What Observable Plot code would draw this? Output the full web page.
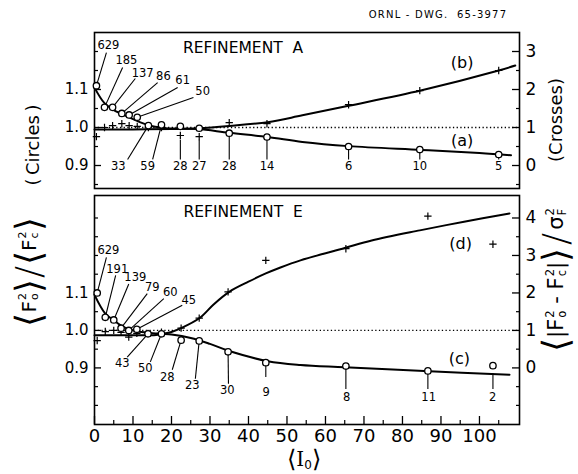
<!DOCTYPE html>
<html><head><meta charset="utf-8">
<script src="https://cdn.jsdelivr.net/npm/d3@7"></script>
<script src="https://cdn.jsdelivr.net/npm/@observablehq/plot@0.6"></script>
<style>
body{margin:0;background:#fff;}
#wrap{position:relative;width:578px;height:474px;overflow:hidden;background:#fff;font-family:"DejaVu Sans",sans-serif;color:#000;}
#wrap svg{position:absolute;left:0;}
.lab{position:absolute;white-space:nowrap;transform:translate(-50%,-50%) rotate(-90deg);line-height:1;display:flex;align-items:center;}
.hl{position:absolute;white-space:nowrap;transform:translate(-50%,-50%);line-height:1;display:flex;align-items:center;}
.st{display:inline-flex;flex-direction:column;font-size:0.55em;line-height:1.05;margin-left:1px;}
.br{font-size:36px;font-weight:200;}
</style></head>
<body><div id="wrap"></div>
<script>
// ---------- shared axis values ----------
const xTicks = [0, 10, 20, 30, 40, 50, 60, 70, 80, 90, 100];
const xMinor = [5, 15, 25, 35, 45, 55, 65, 75, 85, 95, 105];
const leftTicks = [0.9, 1.0, 1.1];
const leftMinorA = [0.85, 0.95, 1.05, 1.15, 1.2];
const leftMinorE = [0.8, 0.85, 0.95, 1.05, 1.15, 1.2, 1.25, 1.3];
const rightTicksA = [0, 1, 2, 3];
const rightMinorA = [-0.5, 0.5, 1.5, 2.5];
const rightTicksE = [0, 1, 2, 3, 4];
const rightMinorE = [-1, -0.5, 0.5, 1.5, 2.5, 3.5];

// ---------- Refinement A ----------
const xA = [0.5, 2.6, 4.7, 7.1, 9.0, 11.1, 14.0, 17.4, 22.3, 27.2, 35.0, 44.8, 66.0, 84.5, 105.0];
const circlesA = [1.110, 1.053, 1.053, 1.037, 1.033, 1.027, 1.005, 1.007, 1.003, 0.998, 0.985, 0.975, 0.950, 0.942, 0.929];
const crossesA = [0.76, 1.00, 1.05, 1.10, 1.05, 1.03, 1.00, 1.00, 0.79, 0.76, 1.13, 1.10, 1.60, 1.97, 2.50];
const countsA = [629, 185, 137, 86, 61, 50, 33, 59, 28, 27, 28, 14, 6, 10, 5];
const curveAx = [0, 2.6, 5, 7, 10, 14, 18, 22, 27, 35, 45, 54, 66, 85, 100, 108.2];
const curveAy = [1.105, 1.064, 1.046, 1.036, 1.022, 1.006, 0.999, 0.997, 0.996, 0.986, 0.975, 0.962, 0.951, 0.941, 0.933, 0.927];
const curveBx = [0, 10, 20, 27, 35, 45, 54, 66, 85, 105, 109.3];
const curveBy = [0.95, 0.95, 0.96, 0.98, 1.04, 1.14, 1.32, 1.57, 1.98, 2.50, 2.63];

// ---------- Refinement E ----------
const xE = [0.7, 2.8, 5.0, 6.9, 8.9, 11.0, 13.9, 17.4, 22.5, 27.2, 34.7, 44.5, 65.3, 86.6, 103.5];
const circlesE = [1.100, 1.035, 1.028, 1.006, 1.000, 1.003, 0.991, 0.991, 0.974, 0.972, 0.943, 0.914, 0.905, 0.892, 0.906];
const crossesE = [0.73, 0.97, 1.00, 0.95, 0.82, 0.92, 0.92, 0.95, 1.06, 1.33, 2.03, 2.87, 3.18, 4.05, 3.30];
const countsE = [629, 191, 139, 79, 60, 45, 43, 50, 28, 23, 30, 9, 8, 11, 2];
const curveCx = [0, 2.8, 5, 7, 9, 11, 14, 17.4, 20, 25, 30, 35, 45, 53.5, 65, 87, 107.8];
const curveCy = [1.095, 1.045, 1.027, 1.012, 1.003, 0.998, 0.994, 0.991, 0.989, 0.980, 0.964, 0.945, 0.918, 0.908, 0.902, 0.891, 0.882];
const curveDx = [0, 10, 16, 20, 22.5, 27.3, 31, 35, 40, 44.5, 48.3, 53.5, 65, 72, 84.5, 96, 107.8];
const curveDy = [0.87, 0.87, 0.88, 0.96, 1.06, 1.33, 1.70, 2.03, 2.30, 2.52, 2.68, 2.87, 3.20, 3.40, 3.67, 3.90, 4.12];

// ---------- count-label placement (data units) ----------
const labTxA = [3.6, 8.3, 12.5, 17.9, 22.9, 28.1, 6.2, 13.8, 22.3, 27.2, 35.0, 44.8, 66.0, 84.5, 105.0];
const labTyA = [1.216, 1.176, 1.142, 1.134, 1.124, 1.095, 0.897, 0.897, 0.897, 0.897, 0.897, 0.897, 0.897, 0.897, 0.897];
const leadX1A = [3.1, 7.3, 10.6, 16.4, 21.6, 25.7, 8.6, 15.1, 22.3, 27.2, 35.0, 44.8, 66.0, 84.5, 105.0];
const leadY1A = [1.197, 1.158, 1.129, 1.118, 1.105, 1.079, 0.916, 0.916, 0.916, 0.916, 0.916, 0.916, 0.916, 0.916, 0.916];
const leadY2A = [1.110, 1.053, 1.053, 1.037, 1.033, 1.027, 1.005, 1.007, 0.968, 0.968, 0.985, 0.975, 0.950, 0.942, 0.929];

const labTxE = [3.6, 5.9, 10.6, 15.0, 19.7, 24.5, 7.2, 13.2, 18.9, 25.4, 34.5, 44.6, 65.5, 86.8, 103.4];
const labTyE = [1.213, 1.164, 1.142, 1.114, 1.102, 1.080, 0.911, 0.898, 0.876, 0.853, 0.840, 0.835, 0.822, 0.822, 0.822];
const leadX1E = [3.1, 5.5, 8.9, 13.7, 18.0, 22.8, 8.5, 14.5, 20.2, 26.2, 34.8, 44.5, 65.3, 86.6, 103.5];
const leadY1E = [1.195, 1.147, 1.124, 1.098, 1.085, 1.067, 0.929, 0.916, 0.895, 0.871, 0.858, 0.876, 0.844, 0.844, 0.844];
const leadY2E = [1.100, 1.035, 1.028, 1.006, 1.000, 1.003, 0.991, 0.991, 0.974, 0.972, 0.943, 0.914, 0.905, 0.892, 0.886];

// right-hand (crosses) scale shares the left scale: 1 on the right = 1.0 on the left, 1 unit = 0.1
const toLeft = r => 1 + (r - 1) / 10;
const toRight = v => Math.round((v - 1) * 10 + 1);

const FONT = "DejaVu Sans";

function panel(o) {
  return Plot.plot({
    width: 578, height: o.height,
    marginTop: o.mt, marginBottom: o.mb, marginLeft: 94, marginRight: 59,
    x: {domain: [0, 110.4], axis: null},
    y: {domain: o.ydom, axis: null},
    style: {fontFamily: FONT, background: "transparent", overflow: "visible", color: "#000"},
    marks: [
      Plot.frame({strokeWidth: 1.6}),
      Plot.ruleY([1.0], {strokeDasharray: "1.3,2.4", strokeWidth: 1.3}),
      // left axis
      Plot.axisY({anchor: "left", ticks: leftTicks, tickSize: -7, tickPadding: 13, tickFormat: d3.format(".1f"), fontSize: 15, strokeWidth: 1.3}),
      Plot.axisY({anchor: "left", ticks: o.leftMinor, tickSize: -4, tickFormat: () => "", strokeWidth: 1.2}),
      // right axis (crosses scale)
      Plot.axisY({anchor: "right", ticks: o.rightTicks.map(toLeft), tickSize: -8, tickPadding: 14, tickFormat: toRight, fontSize: 17, strokeWidth: 1.3}),
      Plot.axisY({anchor: "right", ticks: o.rightMinor.map(toLeft), tickSize: -4, tickFormat: () => "", strokeWidth: 1.2}),
      ...(o.xaxis ? [
        Plot.axisX({anchor: "bottom", ticks: xTicks, tickSize: -8, tickPadding: 13, fontSize: 18, strokeWidth: 1.3}),
        Plot.axisX({anchor: "bottom", ticks: xMinor, tickSize: -4, tickFormat: () => "", strokeWidth: 1.2})
      ] : []),
      // fitted curves
      Plot.line(o.c1y, {x: o.c1x, y: d => d, curve: "catmull-rom", strokeWidth: 2}),
      Plot.line(o.c2y, {x: o.c2x, y: d => toLeft(d), curve: "catmull-rom", strokeWidth: 2}),
      // leaders and count labels
      Plot.link(o.counts, {x1: o.lx1, y1: o.ly1, x2: o.xs, y2: o.ly2, strokeWidth: 1.1}),
      Plot.text(o.counts, {x: o.tx, y: o.ty, text: d => String(d), fontSize: 11.5}),
      // data points
      Plot.dot(o.crosses, {x: o.xs, y: d => toLeft(d), symbol: "plus", r: 2.5, stroke: "#000", strokeWidth: 1.2}),
      Plot.dot(o.circles, {x: o.xs, y: d => d, r: 3.2, fill: "#fff", stroke: "#000", strokeWidth: 1.3}),
      // titles
      Plot.text([o.title], {x: 38.6, y: o.titleY, fontSize: 15.5, ariaLabel: "refine"}),
      Plot.text(o.tags, {x: o.tagX, y: o.tagY, fontSize: 16})
    ]
  });
}

const svgA = panel({
  height: 192, mt: 32, mb: 4, ydom: [0.8395, 1.25],
  leftMinor: leftMinorA, rightTicks: rightTicksA, rightMinor: rightMinorA, xaxis: false,
  c1x: curveAx, c1y: curveAy, c2x: curveBx, c2y: curveBy,
  xs: xA, circles: circlesA, crosses: crossesA, counts: countsA,
  tx: labTxA, ty: labTyA, lx1: leadX1A, ly1: leadY1A, ly2: leadY2A,
  title: "REFINEMENT\u00a0\u00a0A", titleY: 1.21,
  tags: ["(b)", "(a)"], tagX: [95.5, 95.5], tagY: [1.169, 0.966]
});
const svgE = panel({
  height: 282, mt: 3, mb: 50, ydom: [0.749, 1.36],
  leftMinor: leftMinorE, rightTicks: rightTicksE, rightMinor: rightMinorE, xaxis: true,
  c1x: curveCx, c1y: curveCy, c2x: curveDx, c2y: curveDy,
  xs: xE, circles: circlesE, crosses: crossesE, counts: countsE,
  tx: labTxE, ty: labTyE, lx1: leadX1E, ly1: leadY1E, ly2: leadY2E,
  title: "REFINEMENT\u00a0\u00a0E", titleY: 1.315,
  tags: ["(d)", "(c)"], tagX: [95.1, 94.8], tagY: [1.231, 0.925]
});

const wrap = document.getElementById("wrap");
svgA.style.top = "0px";
svgE.style.top = "192px";
wrap.appendChild(svgA);
wrap.appendChild(svgE);
d3.select(wrap).selectAll('g[aria-label="refine"] text').style("letter-spacing", "3.4px");

function addLabel(html, cls, x, y, size) {
  const d = document.createElement("div");
  d.className = cls;
  d.style.left = x + "px";
  d.style.top = y + "px";
  d.style.fontSize = size + "px";
  d.innerHTML = html;
  wrap.appendChild(d);
}
addLabel('<span style="letter-spacing:1.2px">ORNL - DWG.&nbsp; 65-3977</span>', "hl", 438, 15, 10);
addLabel("(&thinsp;Circles&thinsp;)", "lab", 33, 145, 18);
addLabel("(Crosses)", "lab", 556, 120, 18);
addLabel('<span class="br">⟨</span>F<span class="st"><span>2</span><span>o</span></span><span class="br">⟩</span>' +
         '<span class="br" style="margin:0 1px">/</span>' +
         '<span class="br">⟨</span>F<span class="st"><span>2</span><span>c</span></span><span class="br">⟩</span>',
         "lab", 29, 272, 20);
addLabel('<span class="br">⟨</span>|F<span class="st"><span>2</span><span>o</span></span>&nbsp;-&nbsp;F<span class="st"><span>2</span><span>c</span></span>|<span class="br">⟩</span>' +
         '<span class="br" style="margin:0 3px">/</span>' +
         'σ<span class="st"><span>2</span><span>F</span></span>',
         "lab", 556, 280, 21);
addLabel('<span class="br" style="font-size:24px">⟨</span><span style="font-family:\'DejaVu Serif\',serif">I</span><span style="font-size:12px;align-self:flex-end;margin-bottom:0px">0</span><span class="br" style="font-size:24px">⟩</span>',
         "hl", 304, 459, 20);
</script>
</body></html>
